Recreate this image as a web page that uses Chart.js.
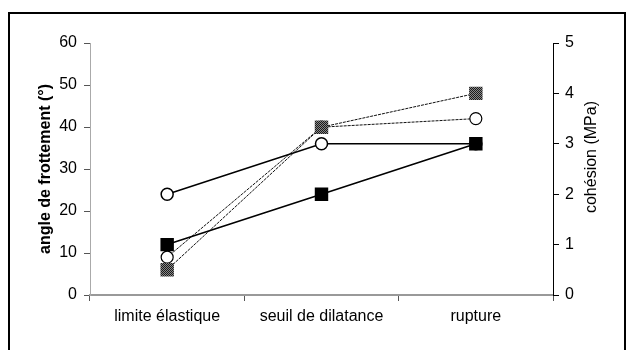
<!DOCTYPE html>
<html>
<head>
<meta charset="utf-8">
<script src="https://cdn.jsdelivr.net/npm/chart.js@4"></script>
<style>
  html, body { margin: 0; padding: 0; background: #fff; }
  #wrap { width: 630px; height: 350px; }
</style>
</head>
<body>
<div id="wrap"><canvas id="myChart" width="630" height="350"></canvas></div>
<script>
// categories and values
let categories = ['limite élastique', 'seuil de dilatance', 'rupture'];
// angle de frottement (°), left axis
let angleCircles = [24, 36, 36];
let angleSquares = [12, 24, 36];
// cohésion (MPa), right axis
let cohesionSquares = [0.5, 3.33, 4];
let cohesionCircles = [0.75, 3.33, 3.5];
let angleTicks = [0, 10, 20, 30, 40, 50, 60];
let cohesionTicks = [0, 1, 2, 3, 4, 5];
let rightTitle = 'cohésion (MPa)';

/* dithered gray fill for the hatched squares */
let pat = document.createElement('canvas');
pat.width = 2;
pat.height = 2;
let pctx = pat.getContext('2d');
pctx.fillStyle = '#888';
pctx.fillRect(0, 0, 2, 2);
pctx.fillStyle = '#1a1a1a';
pctx.fillRect(0, 0, 1, 1);
pctx.fillRect(1, 1, 1, 1);
let grayFill = pctx.createPattern(pat, 'repeat');

/* white page, black frame, and the right title read bottom to top */
let frame = {
    id: 'frame',
    beforeDraw: (chart) => {
        let ctx = chart.ctx;
        ctx.save();
        ctx.fillStyle = '#fff';
        ctx.fillRect(0, 0, chart.width, chart.height);
        ctx.restore();
    },
    afterDraw: (chart) => {
        let ctx = chart.ctx;
        let y2 = chart.scales.y2;
        ctx.save();
        ctx.strokeStyle = '#000';
        ctx.lineWidth = 2;
        ctx.strokeRect(9, 13, 616, 345);
        ctx.translate(y2.right - 18, (y2.top + y2.bottom) / 2 - 12);
        ctx.rotate(-Math.PI / 2);
        ctx.fillStyle = '#000';
        ctx.font = '16px "Liberation Sans", Arial';
        ctx.textAlign = 'center';
        ctx.textBaseline = 'middle';
        ctx.fillText(rightTitle, 0, 0);
        ctx.restore();
    }
};

let config = {
    type: 'line',
    data: {
        labels: categories,
        datasets: [{
            label: 'angle (cercles)',
            data: angleCircles,
            yAxisID: 'y',
            order: 3,
            borderColor: '#000',
            borderWidth: 1.6,
            pointStyle: 'circle',
            pointRadius: 6,
            pointBorderWidth: 1.5,
            pointBorderColor: '#000',
            pointBackgroundColor: '#fff',
            tension: 0
        }, {
            label: 'cohésion (cercles)',
            data: cohesionCircles,
            yAxisID: 'y2',
            order: 2,
            borderColor: '#111',
            borderWidth: 1,
            borderDash: [3, 1],
            pointStyle: 'circle',
            pointRadius: 6,
            pointBorderWidth: 1.2,
            pointBorderColor: '#000',
            pointBackgroundColor: '#fff',
            tension: 0
        }, {
            label: 'cohésion (carrés)',
            data: cohesionSquares,
            yAxisID: 'y2',
            order: 1,
            borderColor: '#111',
            borderWidth: 1,
            borderDash: [3, 1],
            pointStyle: 'rect',
            pointRadius: 9.5,
            pointBorderWidth: 0,
            pointBackgroundColor: grayFill,
            tension: 0
        }, {
            label: 'angle (carrés)',
            data: angleSquares,
            yAxisID: 'y',
            order: 0,
            borderColor: '#000',
            borderWidth: 1.6,
            pointStyle: 'rect',
            pointRadius: 9.5,
            pointBorderWidth: 0,
            pointBackgroundColor: '#000',
            tension: 0
        }]
    },
    options: {
        responsive: false,
        animation: false,
        layout: { padding: { top: 43, left: 28, right: 20, bottom: 0 } },
        plugins: {
            legend: { display: false },
            tooltip: { enabled: false }
        },
        scales: {
            x: {
                type: 'category',
                offset: true,
                afterFit: (s) => { s.height = 55; },
                border: { display: true, color: '#999', width: 2 },
                grid: { offset: true, drawOnChartArea: false, tickLength: 6, color: '#555' },
                ticks: {
                    color: '#000',
                    padding: 6,
                    font: { family: 'Liberation Sans, Arial', size: 16 }
                }
            },
            y: {
                position: 'left',
                min: 0,
                max: 60,
                afterFit: (s) => { s.width = 62; },
                afterBuildTicks: (s) => { s.ticks = angleTicks.map(v => ({ value: v })); },
                border: { display: true, color: '#aaa', width: 1, dash: [2, 3] },
                grid: { drawOnChartArea: false, tickLength: 6, color: '#555' },
                ticks: {
                    color: '#000',
                    padding: 7,
                    font: { family: 'Liberation Sans, Arial', size: 16 }
                },
                title: {
                    display: true,
                    text: 'angle de frottement (°)',
                    color: '#000',
                    padding: { top: 8, bottom: 0 },
                    font: { family: 'Liberation Sans, Arial', size: 16, weight: 'bold' }
                }
            },
            y2: {
                position: 'right',
                min: 0,
                max: 5,
                afterFit: (s) => { s.width = 57; },
                afterBuildTicks: (s) => { s.ticks = cohesionTicks.map(v => ({ value: v })); },
                border: { display: true, color: '#000', width: 1, dash: [2, 1] },
                grid: { drawOnChartArea: false, tickLength: 6, color: '#000' },
                ticks: {
                    color: '#000',
                    padding: 6,
                    font: { family: 'Liberation Sans, Arial', size: 16 }
                }
            }
        }
    },
    plugins: [frame]
};

let myChart = new Chart(document.getElementById('myChart'), config);
</script>
</body>
</html>
